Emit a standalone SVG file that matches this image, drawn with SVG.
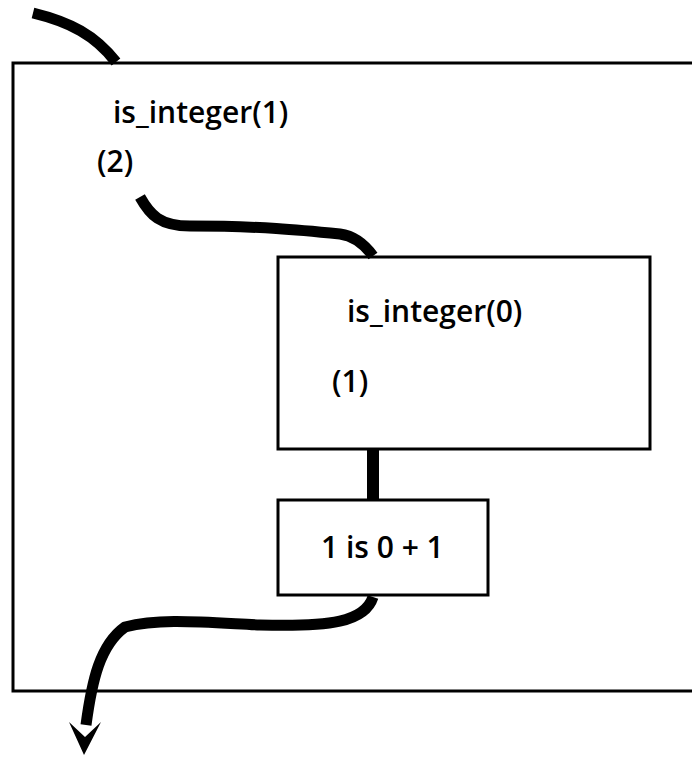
<svg xmlns="http://www.w3.org/2000/svg" width="692" height="757" viewBox="0 0 692 757">
<style>
.box{fill:#fff;stroke:#000;stroke-width:3}
.t{font-family:"Open Sans","Liberation Sans",sans-serif;font-size:30px;font-weight:600;fill:#000}
.c{fill:none;stroke:#000;stroke-width:11;stroke-linecap:butt}
</style>
<g id="outer">
<path class="box" d="M700,63 H13 V691 H700"/>
<text class="t" x="113" y="123">is_integer(1)</text>
<text class="t" x="97" y="172">(2)</text>
</g>
<g id="inner">
<rect class="box" x="278" y="257" width="372" height="192"/>
<text class="t" x="347" y="322">is_integer(0)</text>
<text class="t" x="332" y="392">(1)</text>
</g>
<g id="add">
<rect class="box" x="278" y="500" width="210" height="95"/>
<text class="t" x="321" y="558">1 is 0 + 1</text>
</g>
<g id="connectors">
<path class="c" d="M33,13 C70,22 95,35 116,62"/>
<path class="c" d="M140,197 C150,215 160,226 190,226 C260,226 300,230 340,234 C355,236 365,245 373,256"/>
<path class="c" style="stroke-width:12" d="M373,449 V500"/>
<path class="c" d="M373,597 C365,622 330,627 260,625 C200,622 160,618 125,627 C100,645 92,680 86,725"/>
<path d="M69,722 L85,737 L101,722 L84,755 Z" fill="#000"/>
</g>
</svg>
